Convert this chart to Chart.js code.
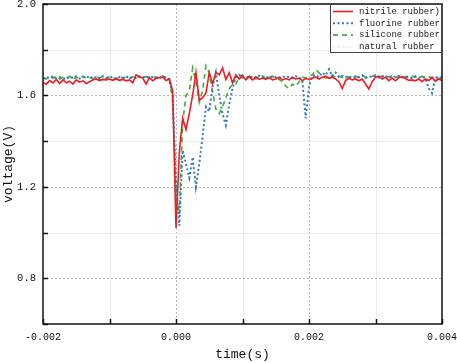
<!DOCTYPE html>
<html>
<head>
<meta charset="utf-8">
<script src="https://cdn.jsdelivr.net/npm/chart.js@4"></script>
<style>
  html, body { margin: 0; padding: 0; background: #fff; }
  #wrap { width: 457px; height: 363px; }
</style>
</head>
<body>
<div id="wrap"><canvas id="voltageChart" width="457" height="363"></canvas></div>
<script>
// sample times in microseconds
const timeUs = [
  -2000, -1950, -1900, -1850, -1800, -1750, -1700, -1650, -1600, -1550,
  -1500, -1450, -1400, -1350, -1300, -1250, -1200, -1150, -1100, -1050,
  -1000, -950, -900, -850, -800, -750, -700, -650, -600, -550,
  -500, -450, -400, -350, -300, -250, -200, -150, -100, -50,
  0, 50, 100, 150, 200, 250, 300, 350, 400, 450,
  500, 550, 600, 650, 700, 750, 800, 850, 900, 950,
  1000, 1050, 1100, 1150, 1200, 1250, 1300, 1350, 1400, 1450,
  1500, 1550, 1600, 1650, 1700, 1750, 1800, 1850, 1900, 1950,
  2000, 2050, 2100, 2150, 2200, 2250, 2300, 2350, 2400, 2450,
  2500, 2550, 2600, 2650, 2700, 2750, 2800, 2850, 2900, 2950,
  3000, 3050, 3100, 3150, 3200, 3250, 3300, 3350, 3400, 3450,
  3500, 3550, 3600, 3650, 3700, 3750, 3800, 3850, 3900, 3950,
  4000
];

const nitrile = [
  1.655, 1.650, 1.665, 1.655, 1.670, 1.652, 1.668, 1.655, 1.662, 1.650,
  1.668, 1.658, 1.664, 1.652, 1.660, 1.668, 1.672, 1.665, 1.670, 1.668,
  1.672, 1.666, 1.672, 1.666, 1.670, 1.664, 1.668, 1.655, 1.690, 1.682,
  1.676, 1.650, 1.678, 1.664, 1.675, 1.678, 1.680, 1.665, 1.672, 1.620,
  1.020, 1.350, 1.500, 1.450, 1.520, 1.600, 1.700, 1.580, 1.590, 1.610,
  1.700, 1.650, 1.700, 1.690, 1.720, 1.670, 1.700, 1.655, 1.690, 1.672,
  1.685, 1.668, 1.682, 1.668, 1.678, 1.670, 1.676, 1.670, 1.678, 1.668,
  1.672, 1.680, 1.668, 1.674, 1.668, 1.680, 1.672, 1.676, 1.665, 1.674,
  1.670, 1.676, 1.680, 1.672, 1.680, 1.684, 1.675, 1.680, 1.672, 1.660,
  1.630, 1.665, 1.675, 1.668, 1.672, 1.664, 1.672, 1.650, 1.628, 1.660,
  1.680, 1.684, 1.672, 1.680, 1.665, 1.676, 1.664, 1.678, 1.682, 1.674,
  1.666, 1.668, 1.664, 1.672, 1.660, 1.672, 1.665, 1.680, 1.662, 1.672,
  1.665
];

const fluorine = [
  1.672, 1.680, 1.676, 1.684, 1.674, 1.680, 1.676, 1.670, 1.682, 1.676,
  1.684, 1.674, 1.680, 1.676, 1.686, 1.674, 1.680, 1.672, 1.684, 1.678,
  1.676, 1.682, 1.672, 1.680, 1.676, 1.684, 1.674, 1.680, 1.676, 1.682,
  1.678, 1.684, 1.676, 1.682, 1.680, 1.676, 1.684, 1.678, 1.672, 1.600,
  1.200, 1.030, 1.360, 1.300, 1.240, 1.330, 1.200, 1.300, 1.420, 1.550,
  1.530, 1.640, 1.700, 1.600, 1.520, 1.470, 1.560, 1.630, 1.680, 1.690,
  1.678, 1.684, 1.676, 1.682, 1.674, 1.686, 1.678, 1.682, 1.676, 1.684,
  1.680, 1.676, 1.684, 1.678, 1.682, 1.676, 1.684, 1.680, 1.665, 1.500,
  1.640, 1.684, 1.690, 1.680, 1.700, 1.688, 1.715, 1.684, 1.700, 1.680,
  1.686, 1.678, 1.684, 1.676, 1.682, 1.680, 1.688, 1.676, 1.684, 1.680,
  1.686, 1.678, 1.682, 1.688, 1.676, 1.684, 1.680, 1.686, 1.678, 1.684,
  1.680, 1.676, 1.684, 1.678, 1.682, 1.676, 1.630, 1.610, 1.680, 1.676,
  1.680
];

const silicone = [
  1.678, 1.672, 1.682, 1.676, 1.684, 1.672, 1.680, 1.676, 1.684, 1.670,
  1.680, 1.674, 1.684, 1.676, 1.680, 1.672, 1.682, 1.676, 1.684, 1.674,
  1.682, 1.676, 1.672, 1.684, 1.676, 1.680, 1.674, 1.682, 1.676, 1.684,
  1.674, 1.682, 1.678, 1.684, 1.676, 1.680, 1.686, 1.678, 1.670, 1.580,
  1.200, 1.080, 1.480, 1.600, 1.620, 1.720, 1.660, 1.570, 1.620, 1.730,
  1.700, 1.620, 1.540, 1.520, 1.550, 1.590, 1.630, 1.650, 1.650, 1.680,
  1.690, 1.676, 1.684, 1.672, 1.682, 1.676, 1.686, 1.674, 1.680, 1.684,
  1.676, 1.670, 1.660, 1.640, 1.630, 1.650, 1.640, 1.660, 1.680, 1.676,
  1.684, 1.690, 1.712, 1.700, 1.686, 1.676, 1.682, 1.690, 1.676, 1.684,
  1.678, 1.686, 1.680, 1.676, 1.684, 1.678, 1.686, 1.680, 1.676, 1.684,
  1.690, 1.680, 1.684, 1.676, 1.682, 1.686, 1.678, 1.684, 1.676, 1.682,
  1.676, 1.684, 1.680, 1.676, 1.684, 1.678, 1.682, 1.676, 1.684, 1.672,
  1.680
];

const natural = [
  1.676, 1.680, 1.672, 1.678, 1.684, 1.674, 1.680, 1.676, 1.682, 1.672,
  1.680, 1.676, 1.684, 1.678, 1.672, 1.680, 1.676, 1.684, 1.674, 1.680,
  1.676, 1.682, 1.674, 1.680, 1.676, 1.684, 1.672, 1.680, 1.678, 1.684,
  1.676, 1.680, 1.674, 1.682, 1.676, 1.680, 1.684, 1.676, 1.670, 1.600,
  1.150, 1.250, 1.450, 1.550, 1.620, 1.700, 1.740, 1.680, 1.700, 1.720,
  1.690, 1.700, 1.680, 1.690, 1.700, 1.684, 1.690, 1.676, 1.684, 1.680,
  1.676, 1.684, 1.678, 1.682, 1.676, 1.680, 1.684, 1.676, 1.682, 1.678,
  1.684, 1.676, 1.680, 1.674, 1.682, 1.678, 1.684, 1.676, 1.680, 1.684,
  1.678, 1.682, 1.676, 1.684, 1.680, 1.676, 1.682, 1.678, 1.684, 1.676,
  1.680, 1.684, 1.678, 1.682, 1.676, 1.680, 1.684, 1.676, 1.682, 1.678,
  1.684, 1.676, 1.680, 1.682, 1.676, 1.684, 1.678, 1.682, 1.676, 1.680,
  1.684, 1.678, 1.682, 1.676, 1.680, 1.684, 1.676, 1.682, 1.678, 1.684,
  1.680
];

const seriesNames = ['nitrile rubber)', 'fluorine rubber', 'silicone rubber', 'natural rubber'];
const xTicks = [-0.002, 0.000, 0.002, 0.004];
const yTicks = [2.0, 1.6, 1.2, 0.8];

const fontFamily = '"Liberation Mono", "DejaVu Sans Mono", monospace';

const toPoints = (values) => values.map((v, i) => ({ x: timeUs[i] / 1e6, y: v }));

const styles = [
  { color: '#ee1c24', width: 1.6, dash: [] },
  { color: '#2f7bc0', width: 2, dash: [2, 2.5] },
  { color: '#43ac3c', width: 1.6, dash: [5, 4] },
  { color: 'rgba(225,190,195,0.55)', width: 1, dash: [1, 1.5] }
];

const isMajorX = (v) => xTicks.some(t => Math.abs(t - v) < 1e-9);
const isMajorY = (v) => yTicks.some(t => Math.abs(t - v) < 1e-9);

// grid, frame, inward ticks and the boxed legend
const framePlugin = {
  id: 'frameAndLegend',
  beforeDatasetsDraw(chart) {
    const ctx = chart.ctx;
    const { left, right, top, bottom } = chart.chartArea;
    const xs = chart.scales.x;
    const ys = chart.scales.y;
    ctx.save();
    ctx.lineWidth = 1;
    xs.ticks.forEach(t => {
      const px = Math.round(xs.getPixelForValue(t.value)) + 0.5;
      if (px <= left + 1 || px >= right - 1) return;
      if (isMajorX(t.value)) {
        ctx.strokeStyle = '#b8b8b8';
        ctx.setLineDash([2, 2]);
      } else {
        ctx.strokeStyle = '#ececec';
        ctx.setLineDash([]);
      }
      ctx.beginPath();
      ctx.moveTo(px, top);
      ctx.lineTo(px, bottom);
      ctx.stroke();
    });
    ys.ticks.forEach(t => {
      const py = Math.round(ys.getPixelForValue(t.value)) + 0.5;
      if (py <= top + 1 || py >= bottom - 1) return;
      if (isMajorY(t.value)) {
        ctx.strokeStyle = '#b8b8b8';
        ctx.setLineDash([2, 2]);
      } else {
        ctx.strokeStyle = '#ececec';
        ctx.setLineDash([]);
      }
      ctx.beginPath();
      ctx.moveTo(left, py);
      ctx.lineTo(right, py);
      ctx.stroke();
    });
    ctx.restore();
  },
  afterDatasetsDraw(chart) {
    const ctx = chart.ctx;
    const { left, right, top, bottom } = chart.chartArea;
    const xs = chart.scales.x;
    const ys = chart.scales.y;
    ctx.save();
    ctx.setLineDash([]);
    ctx.strokeStyle = '#111';
    ctx.lineWidth = 1.5;
    ctx.strokeRect(left, top, right - left, bottom - top);

    ctx.lineWidth = 1.5;
    xs.ticks.forEach(t => {
      const px = Math.round(xs.getPixelForValue(t.value)) + 0.5;
      ctx.beginPath();
      ctx.moveTo(px, bottom);
      ctx.lineTo(px, bottom - 5);
      ctx.stroke();
    });
    ys.ticks.forEach(t => {
      const py = Math.round(ys.getPixelForValue(t.value)) + 0.5;
      ctx.beginPath();
      ctx.moveTo(left, py);
      ctx.lineTo(left + 5, py);
      ctx.stroke();
    });

    // legend box in the top-right corner
    const boxW = 112;
    const boxH = 49;
    const bx = right - boxW;
    const by = top;
    ctx.fillStyle = '#fff';
    ctx.fillRect(bx, by, boxW, boxH);
    ctx.strokeStyle = '#444';
    ctx.lineWidth = 1;
    ctx.strokeRect(bx + 0.5, by + 0.5, boxW - 1, boxH - 1);
    ctx.font = '9px ' + fontFamily;
    ctx.textBaseline = 'middle';
    ctx.textAlign = 'left';
    seriesNames.forEach((name, i) => {
      const cy = by + 7.5 + i * 11.8;
      const st = styles[i];
      ctx.strokeStyle = i === 3 ? '#cfcfcf' : st.color;
      ctx.lineWidth = st.width;
      ctx.setLineDash(st.dash);
      ctx.beginPath();
      ctx.moveTo(bx + 3, cy);
      ctx.lineTo(bx + 23, cy);
      ctx.stroke();
      ctx.setLineDash([]);
      ctx.fillStyle = '#222';
      ctx.fillText(name, bx + 29, cy);
    });
    ctx.restore();
  }
};

const datasets = [nitrile, fluorine, silicone, natural].map((values, i) => ({
  label: seriesNames[i],
  data: toPoints(values),
  borderColor: styles[i].color,
  borderWidth: styles[i].width,
  borderDash: styles[i].dash,
  pointRadius: 0,
  tension: 0,
  fill: false
}));

new Chart(document.getElementById('voltageChart'), {
  type: 'line',
  data: { datasets },
  options: {
    responsive: false,
    animation: false,
    devicePixelRatio: 1,
    layout: { padding: { top: 4, right: 15, left: 0, bottom: 0 } },
    plugins: {
      legend: { display: false },
      tooltip: { enabled: false }
    },
    scales: {
      x: {
        type: 'linear',
        min: -0.002,
        max: 0.004,
        afterFit(scale) {
          scale.height = 39;
          scale.paddingLeft = 0;
          scale.paddingRight = 0;
        },
        grid: { display: false, drawTicks: false },
        border: { display: false },
        ticks: {
          stepSize: 0.001,
          padding: 7,
          maxRotation: 0,
          autoSkip: false,
          color: '#111',
          font: { family: fontFamily, size: 10 },
          callback(value) {
            return isMajorX(value) ? value.toFixed(3) : '';
          }
        },
        title: {
          display: true,
          text: 'time(s)',
          color: '#111',
          font: { family: fontFamily, size: 13 },
          padding: { top: 0, bottom: 1 }
        }
      },
      y: {
        min: 0.6,
        max: 2.0,
        afterFit(scale) {
          scale.width = 43;
          scale.paddingTop = 0;
          scale.paddingBottom = 0;
        },
        grid: { display: false, drawTicks: false },
        border: { display: false },
        ticks: {
          stepSize: 0.2,
          padding: 7,
          autoSkip: false,
          color: '#111',
          font: { family: fontFamily, size: 10.5 },
          callback(value) {
            return isMajorY(value) ? value.toFixed(1) : '';
          }
        },
        title: {
          display: true,
          text: 'voltage(V)',
          color: '#111',
          font: { family: fontFamily, size: 13 },
          padding: { top: 1, bottom: 0 }
        }
      }
    }
  },
  plugins: [framePlugin]
});
</script>
</body>
</html>
